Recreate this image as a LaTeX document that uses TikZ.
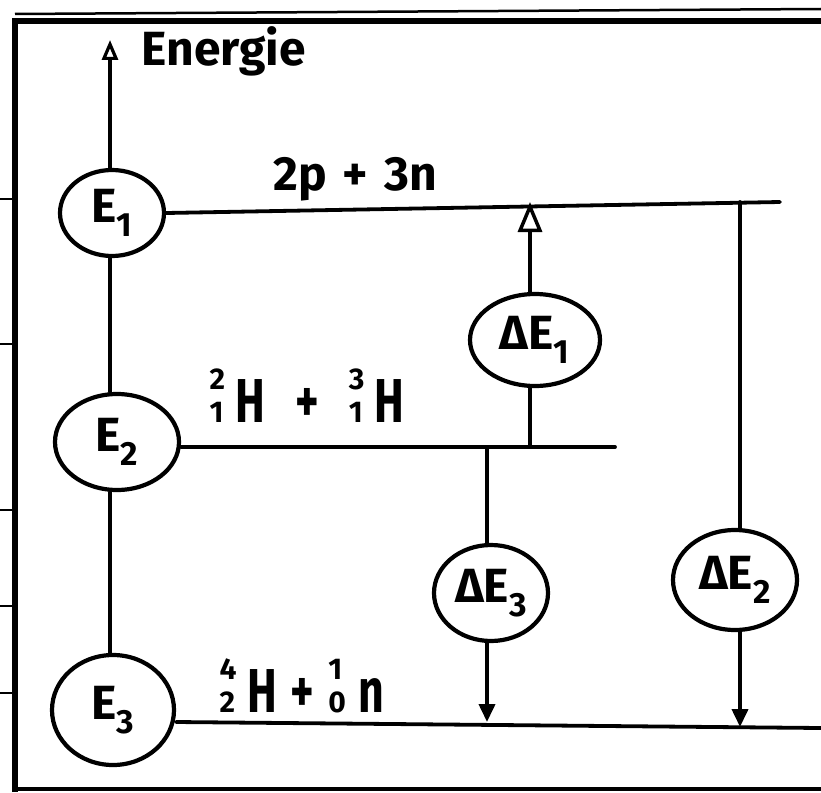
\documentclass[tikz,border=0pt]{standalone}
\usepackage{fontspec}
\setsansfont{Fira Sans}
\usetikzlibrary{arrows.meta,shapes.geometric}
% tall, narrow lettering
\newcommand{\tall}[1]{\scalebox{0.72}[1]{#1}}
% nuclide symbol: mass number raised, charge number on the baseline, then the element
\newcommand{\nucl}[3]{{\fontsize{30}{30}\selectfont\rlap{\raisebox{33pt}{#1}}#2}\hspace{12pt}\tall{#3}}
\begin{document}
\begin{tikzpicture}[x=1pt,y=-1pt,
  ink/.style={line width=3.8pt,line cap=round},
  level/.style={ellipse,draw,line width=4.2pt,inner sep=0pt},
  lbl/.style={font=\sffamily\bfseries\fontsize{48}{52}\selectfont},
  nuc/.style={font=\sffamily\bfseries\fontsize{62}{66}\selectfont},
  circtxt/.style={font=\sffamily\bfseries\fontsize{48}{52}\selectfont},
  axisarrow/.style={-{Triangle[open,length=20pt,width=16pt,line width=3.2pt]}},
  uparrow/.style={-{Triangle[open,length=30pt,width=24pt,line width=3.5pt]}},
  downarrow/.style={-{Triangle[length=18pt,width=16pt]}}
]
\useasboundingbox (0,0) rectangle (821,792);

% frame of the page
\draw[line width=6pt] (15,792) -- (15,21) -- (821,21);
\draw[line width=2.5pt] (15,14) -- (821,9);
\draw[line width=4pt] (15,789) -- (821,789);
% margin ticks
\foreach \yy in {199,344,510,606,693}
  \draw[line width=2.5pt] (0,\yy) -- (15,\yy);

% energy levels (circles)
\node[level,minimum width=104pt,minimum height=86pt,circtxt] (E1) at (112,213) {E\textsubscript{1}};
\node[level,minimum width=124pt,minimum height=96pt,circtxt] (E2) at (117,442) {E\textsubscript{2}};
\node[level,minimum width=122pt,minimum height=110pt,circtxt] (E3) at (113,710) {E\textsubscript{3}};

% energy axis
\coordinate (top) at (110,40);
\draw[ink,axisarrow] (top |- E1.north) -- (top);
\node[lbl,anchor=base west] (en) at (138,66) {Energie};
\draw[ink] (top |- E1.south) -- (top |- E2.north);
\draw[ink] (top |- E2.south) -- (top |- E3.north);

% level lines
\coordinate (L1end) at (780,202);
\coordinate (L2end) at (615,447);
\coordinate (L3end) at (821,728);
\draw[ink] (E1.east) -- (L1end);
\draw[ink] (E2.east |- 0,447) -- (L2end);
\draw[ink] (E3.east |- 0,722) -- (L3end);

% level labels
\node[lbl,anchor=base west] (t1) at (270,190) {2p\hspace{16pt}+\hspace{16pt}3n};
\node[nuc,anchor=base west] (t2) at (206,422) {\nucl{2}{1}{H}\hspace{30pt}\tall{+}\hspace{30pt}\nucl{3}{1}{H}};
\node[nuc,anchor=base west] (t3) at (216,712) {\nucl{4}{2}{H}\hspace{14pt}\tall{+}\hspace{14pt}\nucl{1}{0}{n}};

% energy differences
\node[level,minimum width=130pt,minimum height=92pt,circtxt] (dE1) at (535,340) {ΔE\textsubscript{1}};
\node[level,minimum width=114pt,minimum height=96pt,circtxt] (dE3) at (491,593) {ΔE\textsubscript{3}};
\node[level,minimum width=124pt,minimum height=100pt,circtxt] (dE2) at (735,580) {ΔE\textsubscript{2}};

\coordinate (a1) at (530,447);
\coordinate (a2) at (530,202);
\draw[ink] (a1) -- (a1 |- dE1.south);
\draw[ink,uparrow] (a2 |- dE1.north) -- (a2);

\coordinate (b1) at (487,447);
\coordinate (b2) at (487,722);
\draw[ink] (b1) -- (b1 |- dE3.north);
\draw[ink,downarrow] (b2 |- dE3.south) -- (b2);

\coordinate (c1) at (740,202);
\coordinate (c2) at (740,727);
\draw[ink] (c1) -- (c1 |- dE2.north);
\draw[ink,downarrow] (c2 |- dE2.south) -- (c2);
\end{tikzpicture}
\end{document}
